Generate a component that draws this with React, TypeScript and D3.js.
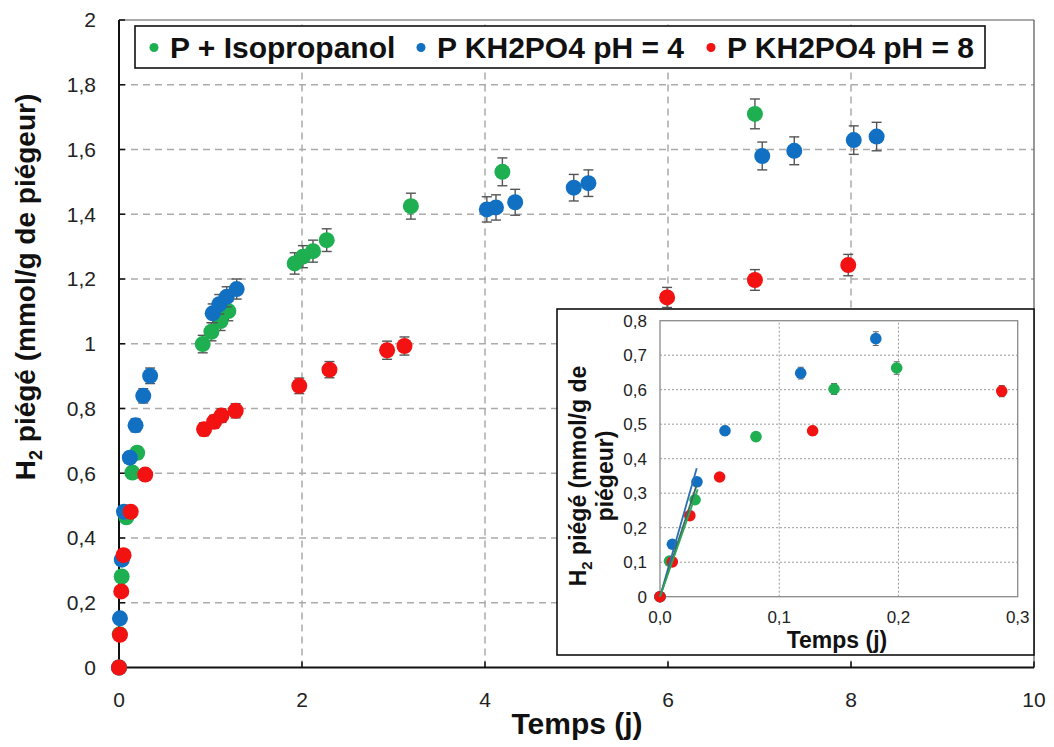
import React from "react";
import * as d3 from "d3";

// ---- data: [time (j), H2 piégé (mmol/g), error] ----
const seriesNames = ["P + Isopropanol", "P KH2PO4 pH = 4", "P KH2PO4 pH = 8"];
const seriesColors = ["#1DAF50", "#1270C2", "#F21212"];

const isoT = [0, 0.008, 0.0294, 0.0805, 0.146, 0.1985, 0.915, 1.01, 1.11, 1.195, 1.92, 2.01, 2.12, 2.27, 3.19, 4.19, 6.95];
const isoV = [0, 0.103, 0.281, 0.464, 0.602, 0.663, 0.999, 1.037, 1.07, 1.101, 1.248, 1.269, 1.286, 1.32, 1.425, 1.531, 1.71];
const isoE = [0, 0.005, 0.008, 0.012, 0.016, 0.018, 0.027, 0.028, 0.029, 0.03, 0.033, 0.034, 0.034, 0.035, 0.04, 0.043, 0.046];

const ph4T = [0, 0.0104, 0.031, 0.0545, 0.118, 0.181, 0.265, 0.34, 1.024, 1.096, 1.177, 1.286, 4.02, 4.12, 4.33, 4.97, 5.13, 7.03, 7.38, 8.03, 8.28];
const ph4V = [0, 0.152, 0.333, 0.481, 0.648, 0.748, 0.839, 0.901, 1.094, 1.122, 1.145, 1.169, 1.415, 1.421, 1.437, 1.482, 1.496, 1.58, 1.596, 1.629, 1.64];
const ph4E = [0, 0.005, 0.009, 0.013, 0.017, 0.02, 0.022, 0.024, 0.029, 0.03, 0.031, 0.031, 0.039, 0.039, 0.04, 0.041, 0.041, 0.043, 0.043, 0.044, 0.044];

const ph8T = [0, 0.0103, 0.025, 0.05, 0.128, 0.2866, 0.93, 1.04, 1.12, 1.275, 1.97, 2.3, 2.93, 3.12, 5.99, 6.95, 7.97];
const ph8V = [0, 0.101, 0.235, 0.347, 0.481, 0.596, 0.736, 0.759, 0.778, 0.793, 0.87, 0.92, 0.98, 0.993, 1.143, 1.197, 1.243];
const ph8E = [0, 0.004, 0.007, 0.01, 0.013, 0.016, 0.02, 0.02, 0.021, 0.022, 0.024, 0.025, 0.028, 0.028, 0.031, 0.032, 0.033];

// initial-slope fit lines in the inset: end point (t, v)
const fitColors = ["#2F6DB5", "#3B6A5C", "#2EA457"];
const fitEndT = [0.0308, 0.0306, 0.0316];
const fitEndV = [0.372, 0.322, 0.311];

const mainXTicks = [0, 2, 4, 6, 8, 10];
const mainYTicks = [0, 0.2, 0.4, 0.6, 0.8, 1, 1.2, 1.4, 1.6, 1.8, 2];
const insetXTicks = [0, 0.1, 0.2, 0.3];
const insetYTicks = [0, 0.1, 0.2, 0.3, 0.4, 0.5, 0.6, 0.7, 0.8];

const FONT = "'Liberation Sans', Arial, Helvetica, sans-serif";

type Pt = { t: number; v: number; e: number };
const zip = (T: number[], V: number[], E: number[]): Pt[] => T.map((t, i) => ({ t, v: V[i], e: E[i] }));
const series = [zip(isoT, isoV, isoE), zip(ph4T, ph4V, ph4E), zip(ph8T, ph8V, ph8E)];

const fmtMainY = (v: number) => (Number.isInteger(v) ? String(v) : d3.format(".1f")(v).replace(".", ","));
const fmtComma1 = (v: number) => d3.format(".1f")(v).replace(".", ",");
const fmtInsetY = (v: number) => (v === 0 ? "0" : fmtComma1(v));

export default function App() {
  const x = d3.scaleLinear().domain([0, 10]).range([119, 1034]);
  const y = d3.scaleLinear().domain([0, 2]).range([667.5, 20]);
  const ix = d3.scaleLinear().domain([0, 0.3]).range([660, 1017.7]);
  const iy = d3.scaleLinear().domain([0, 0.8]).range([596.7, 320.7]);

  const [x0, x1] = x.range();
  const [y0, y1] = y.range();
  const [ix0, ix1] = ix.range();
  const [iy0, iy1] = iy.range();

  const line = d3.line<[number, number]>().x((d) => ix(d[0])).y((d) => iy(d[1]));

  return (
    <svg width={1054} height={747} style={{ position: "absolute", left: 0, top: 0, background: "#fff" }} fontFamily={FONT}>
      <rect x={0} y={0} width={1054} height={747} fill="#fff" />
      {/* main grid */}
      {mainYTicks.filter((v) => v > 0 && v < 2).map((v) => (
        <line key={"gy" + v} x1={x0} x2={x1} y1={y(v)} y2={y(v)} stroke="#ababab" strokeWidth={1.5} strokeDasharray="7,5" />
      ))}
      {mainXTicks.filter((v) => v > 0 && v < 10).map((v) => (
        <line key={"gx" + v} x1={x(v)} x2={x(v)} y1={y0} y2={y1} stroke="#ababab" strokeWidth={1.5} strokeDasharray="7,5" />
      ))}
      {/* frame */}
      <line x1={x0} x2={x1} y1={y1} y2={y1} stroke="#555" strokeWidth={1.2} />
      <line x1={x1} x2={x1} y1={y1} y2={y0} stroke="#555" strokeWidth={1.2} />
      <line x1={x0} x2={x0} y1={y1} y2={y0} stroke="#111" strokeWidth={2} />
      <line x1={x0} x2={x1} y1={y0} y2={y0} stroke="#111" strokeWidth={2} />
      {/* ticks */}
      {mainYTicks.map((v) => (
        <line key={"ty" + v} x1={x0} x2={x0 + 6} y1={y(v)} y2={y(v)} stroke="#111" strokeWidth={1.5} />
      ))}
      {mainXTicks.map((v) => (
        <line key={"tx" + v} x1={x(v)} x2={x(v)} y1={y0} y2={y0 - 6} stroke="#111" strokeWidth={1.5} />
      ))}
      {/* tick labels */}
      {mainYTicks.map((v) => (
        <text key={"ly" + v} x={96} y={y(v)} dy="0.35em" textAnchor="end" fontSize={21} fill="#222">
          {fmtMainY(v)}
        </text>
      ))}
      {mainXTicks.map((v) => (
        <text key={"lx" + v} x={x(v)} y={707} textAnchor="middle" fontSize={21} fill="#222">
          {v}
        </text>
      ))}
      {/* axis titles */}
      <text x={577} y={734} textAnchor="middle" fontSize={30} fontWeight="bold" fill="#111">
        Temps (j)
      </text>
      <text transform="translate(35,287) rotate(-90)" textAnchor="middle" fontSize={28} fontWeight="bold" fill="#111">
        H<tspan fontSize={18} dy={7}>2</tspan>
        <tspan dy={-7}> piégé (mmol/g de piégeur)</tspan>
      </text>

      {/* main series */}
      {series.map((s, si) => (
        <g key={"s" + si}>
          {s.map((p, i) =>
            p.e > 0 ? (
              <g key={i} stroke="#555" strokeWidth={1.4}>
                <line x1={x(p.t)} x2={x(p.t)} y1={y(p.v - p.e)} y2={y(p.v + p.e)} />
                <line x1={x(p.t) - 5} x2={x(p.t) + 5} y1={y(p.v - p.e)} y2={y(p.v - p.e)} />
                <line x1={x(p.t) - 5} x2={x(p.t) + 5} y1={y(p.v + p.e)} y2={y(p.v + p.e)} />
              </g>
            ) : null
          )}
          {s.map((p, i) => (
            <circle key={"c" + i} cx={x(p.t)} cy={y(p.v)} r={8} fill={seriesColors[si]} />
          ))}
        </g>
      ))}

      {/* legend */}
      <rect x={135} y={26} width={850} height={42} fill="#fff" stroke="#111" strokeWidth={1.6} />
      {[
        { dot: 154, tx: 170 },
        { dot: 421, tx: 437 },
        { dot: 711, tx: 727 },
      ].map((l, i) => (
        <g key={"lg" + i}>
          <circle cx={l.dot} cy={47.5} r={4.5} fill={seriesColors[i]} />
          <text x={l.tx} y={57.5} fontSize={30} fontWeight="bold" fill="#111">
            {seriesNames[i]}
          </text>
        </g>
      ))}

      {/* inset */}
      <rect x={557} y={309} width={477} height={346} fill="#fff" stroke="#111" strokeWidth={1.6} />
      <defs>
        <clipPath id="insetClip">
          <rect x={ix0 - 8} y={iy1} width={ix1 - ix0 + 16} height={iy0 - iy1 + 8} />
        </clipPath>
      </defs>
      {insetYTicks.filter((v) => v > 0 && v < 0.8).map((v) => (
        <line key={"igy" + v} x1={ix0} x2={ix1} y1={iy(v)} y2={iy(v)} stroke="#9a9a9a" strokeWidth={1} strokeDasharray="2,2" />
      ))}
      {insetXTicks.filter((v) => v > 0 && v < 0.3).map((v) => (
        <line key={"igx" + v} x1={ix(v)} x2={ix(v)} y1={iy0} y2={iy1} stroke="#9a9a9a" strokeWidth={1} strokeDasharray="2,2" />
      ))}
      <rect x={ix0} y={iy1} width={ix1 - ix0} height={iy0 - iy1} fill="none" stroke="#8a8a8a" strokeWidth={1.3} />
      {insetYTicks.map((v) => (
        <text key={"ily" + v} x={647} y={iy(v)} dy="0.35em" textAnchor="end" fontSize={17} fill="#222">
          {fmtInsetY(v)}
        </text>
      ))}
      {insetXTicks.map((v) => (
        <text key={"ilx" + v} x={ix(v)} y={623} textAnchor="middle" fontSize={17} fill="#222">
          {fmtComma1(v)}
        </text>
      ))}
      <text x={837} y={648} textAnchor="middle" fontSize={23} fontWeight="bold" fill="#111">
        Temps (j)
      </text>
      <text transform="translate(586,476) rotate(-90)" textAnchor="middle" fontSize={23} fontWeight="bold" fill="#111">
        H<tspan fontSize={15} dy={6}>2</tspan>
        <tspan dy={-6}> piégé (mmol/g de</tspan>
      </text>
      <text transform="translate(613,476) rotate(-90)" textAnchor="middle" fontSize={23} fontWeight="bold" fill="#111">
        piégeur)
      </text>
      <g clipPath="url(#insetClip)">
        {series.map((s, si) => (
          <g key={"is" + si}>
            {s
              .filter((p) => p.t <= 0.3)
              .map((p, i) =>
                p.e > 0 ? (
                  <g key={i} stroke="#666" strokeWidth={1.1}>
                    <line x1={ix(p.t)} x2={ix(p.t)} y1={iy(p.v - p.e)} y2={iy(p.v + p.e)} />
                    <line x1={ix(p.t) - 3} x2={ix(p.t) + 3} y1={iy(p.v - p.e)} y2={iy(p.v - p.e)} />
                    <line x1={ix(p.t) - 3} x2={ix(p.t) + 3} y1={iy(p.v + p.e)} y2={iy(p.v + p.e)} />
                  </g>
                ) : null
              )}
            {s
              .filter((p) => p.t <= 0.3)
              .map((p, i) => (
                <circle key={"ic" + i} cx={ix(p.t)} cy={iy(p.v)} r={5.8} fill={seriesColors[si]} />
              ))}
          </g>
        ))}
        {fitColors.map((c, i) => (
          <path key={"fit" + i} d={line([[0, 0], [fitEndT[i], fitEndV[i]]]) || ""} stroke={c} strokeWidth={1.8} fill="none" />
        ))}
      </g>
    </svg>
  );
}
